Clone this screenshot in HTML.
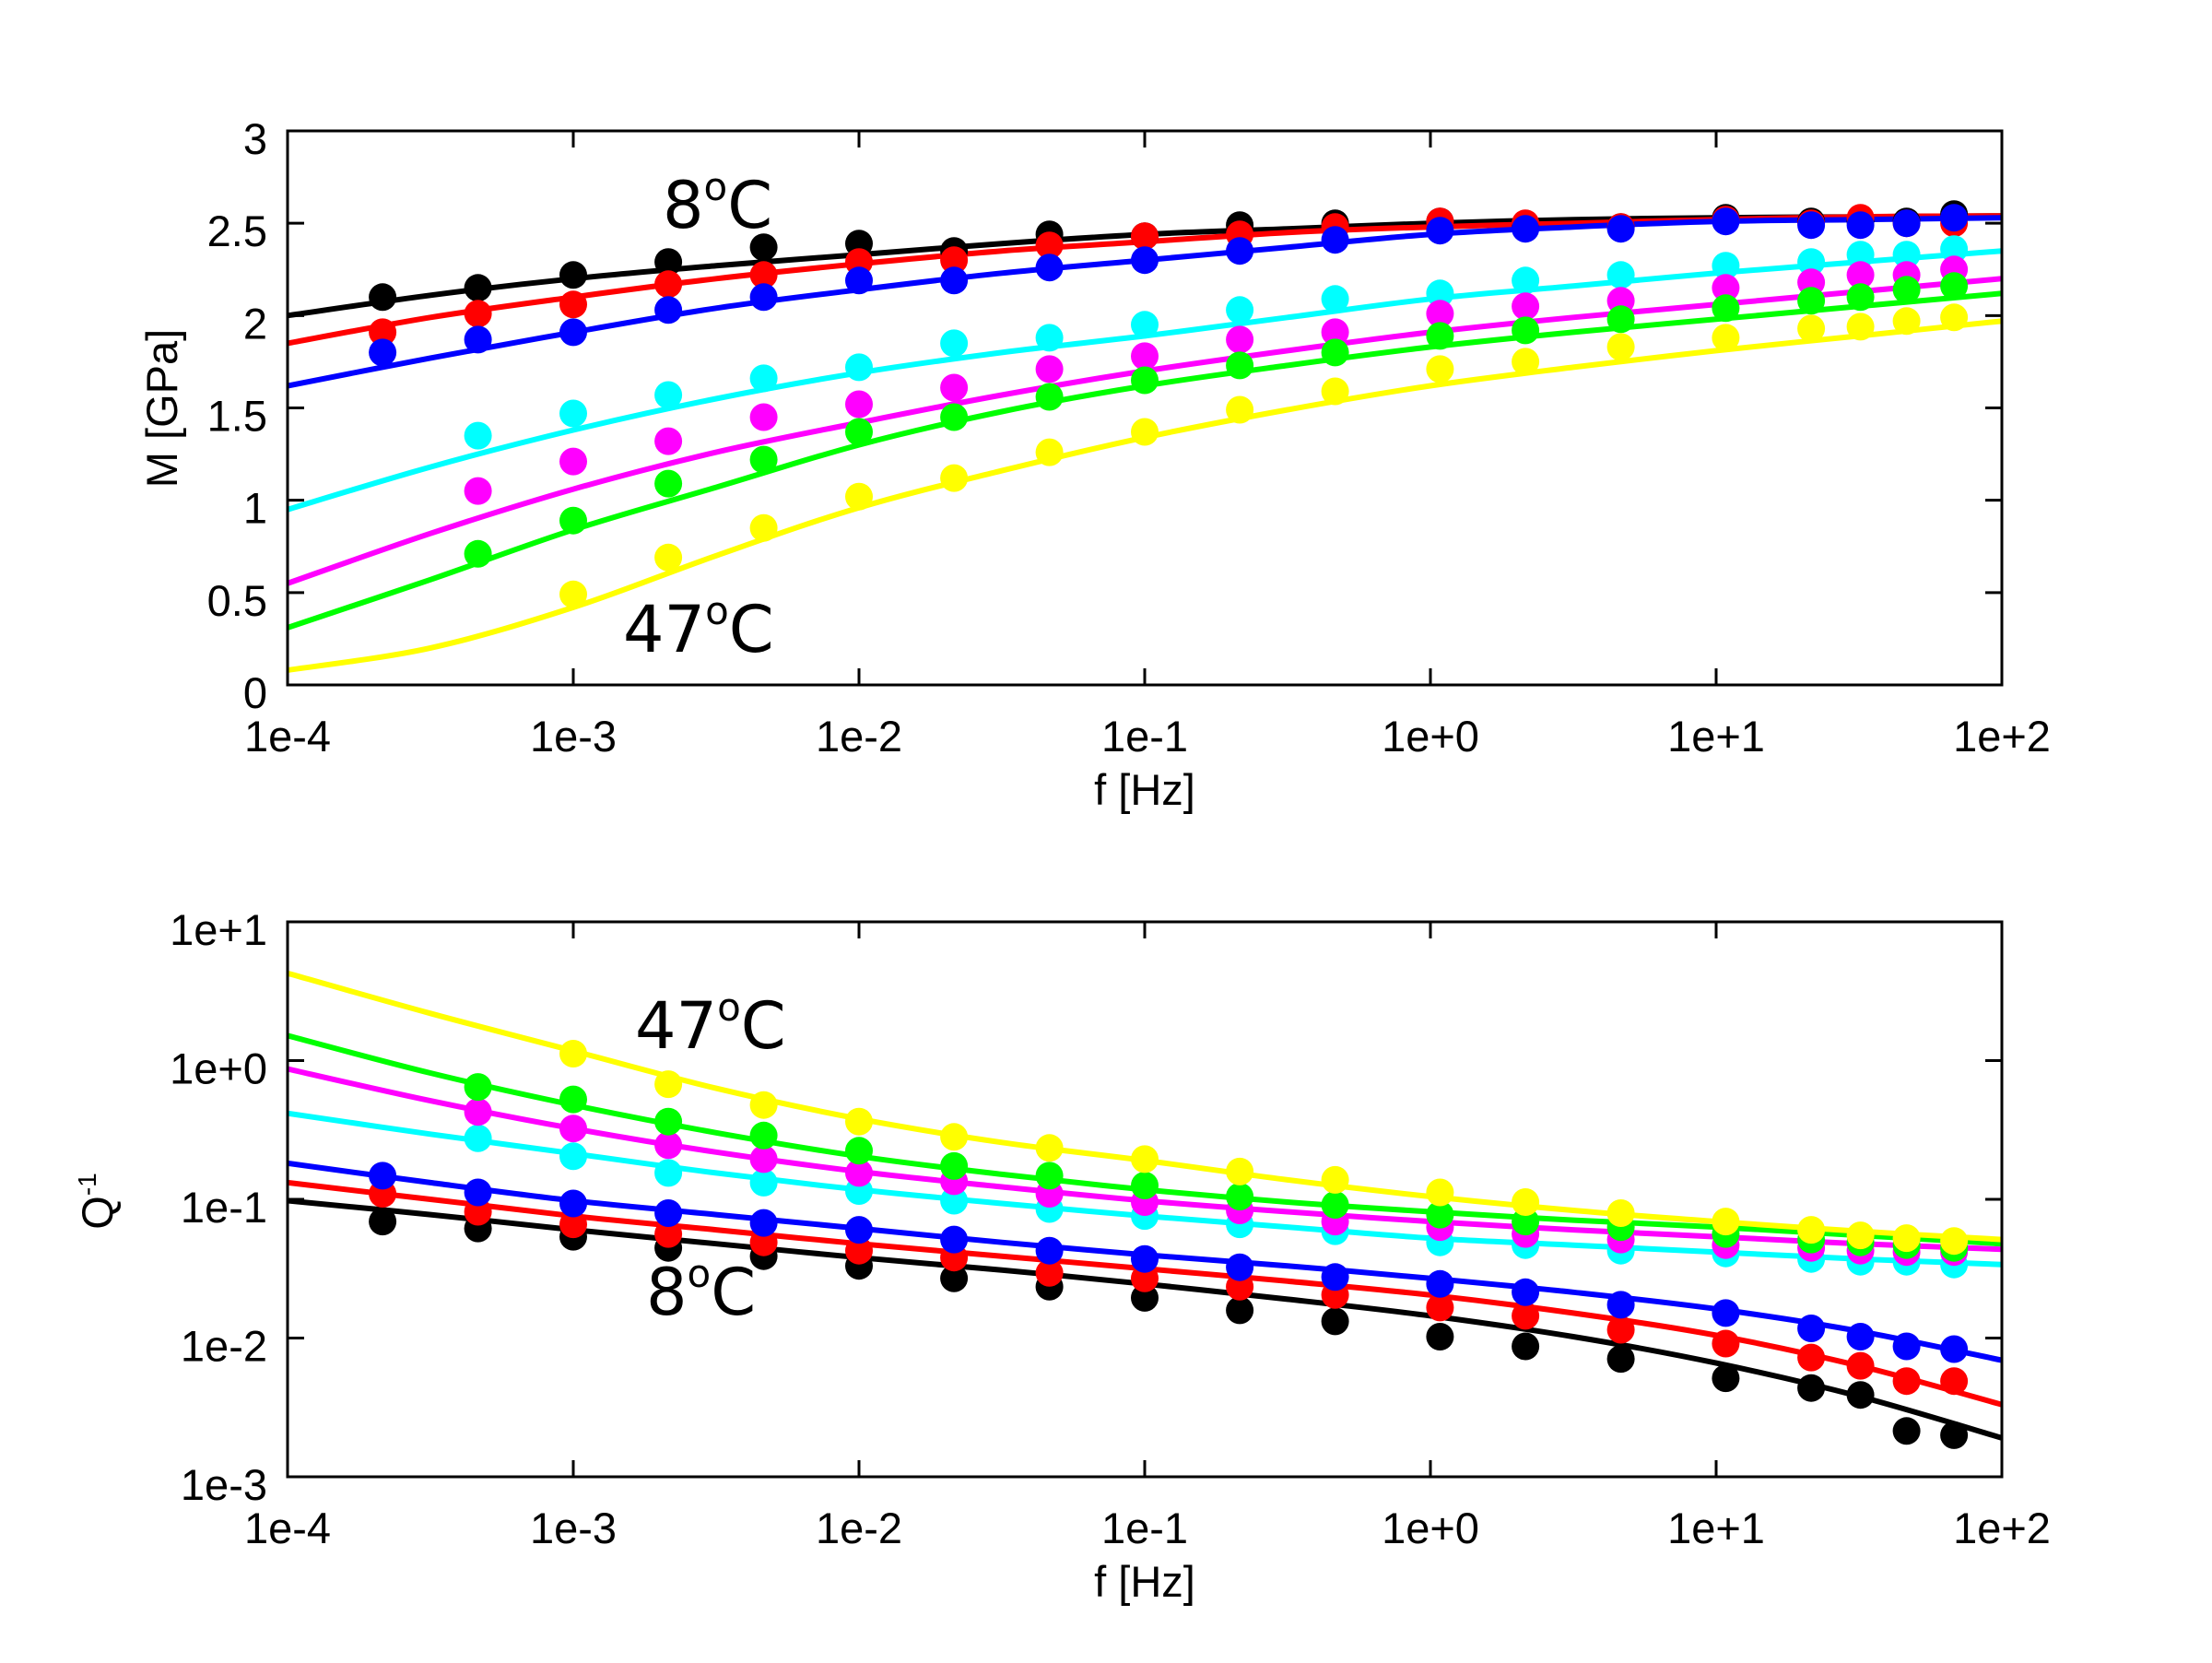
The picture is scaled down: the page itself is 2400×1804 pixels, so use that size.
<!DOCTYPE html>
<html><head><meta charset="utf-8"><style>
html,body{margin:0;padding:0;background:#fff;}
svg{display:block;font-family:"Liberation Sans",sans-serif;}
</style></head><body>
<svg id="chart" width="2400" height="1804" viewBox="0 0 2400 1804"></svg>
<script>
const freqs=[2.15e-4,4.64e-4,1e-3,2.15e-3,4.64e-3,1e-2,2.15e-2,4.64e-2,0.1,0.215,0.464,1.08,2.15,4.64,10.8,21.5,32,46.4,68];
const seriesNames=["8C","T2","T3","T4","T5","T6","47C"];
const seriesColors=["#000000","#ff0000","#0000ff","#00ffff","#ff00ff","#00ff00","#ffff00"];
const mBlack=[2.10,2.15,2.22,2.29,2.37,2.39,2.35,2.44,2.43,2.49,2.50,2.51,2.49,2.48,2.53,2.51,2.51,2.51,2.55];
const mRed=[1.91,2.01,2.06,2.17,2.22,2.29,2.30,2.38,2.43,2.44,2.48,2.51,2.50,2.48,2.52,2.50,2.53,2.50,2.50];
const mBlue=[1.80,1.87,1.91,2.03,2.10,2.19,2.19,2.26,2.30,2.35,2.41,2.46,2.47,2.47,2.51,2.49,2.49,2.50,2.53];
const mCyan=[null,1.35,1.47,1.57,1.66,1.72,1.85,1.88,1.95,2.03,2.09,2.12,2.19,2.22,2.27,2.29,2.33,2.33,2.36];
const mMagenta=[null,1.05,1.21,1.32,1.45,1.52,1.61,1.71,1.78,1.87,1.91,2.01,2.05,2.08,2.15,2.18,2.22,2.22,2.25];
const mGreen=[null,0.71,0.89,1.09,1.22,1.37,1.45,1.56,1.65,1.73,1.80,1.89,1.92,1.98,2.04,2.08,2.10,2.14,2.16];
const mYellow=[null,null,0.49,0.69,0.85,1.02,1.12,1.26,1.37,1.49,1.59,1.71,1.75,1.83,1.88,1.93,1.94,1.97,1.99];
const fitLogF=[-4,-3.5,-3,-2.5,-2,-1.5,-1,-0.5,0,0.5,1,1.5,2];
const mFitBlack=[2.00,2.11,2.20,2.27,2.33,2.39,2.44,2.47,2.50,2.52,2.53,2.535,2.54];
const mFitRed=[1.85,1.99,2.10,2.20,2.28,2.35,2.40,2.45,2.48,2.50,2.52,2.535,2.54];
const mFitBlue=[1.62,1.77,1.91,2.04,2.14,2.23,2.30,2.37,2.44,2.48,2.51,2.52,2.53];
const mFitCyan=[0.95,1.18,1.38,1.55,1.69,1.80,1.89,1.99,2.09,2.16,2.23,2.29,2.35];
const mFitMagenta=[0.55,0.82,1.06,1.26,1.42,1.57,1.70,1.81,1.91,1.99,2.06,2.13,2.20];
const mFitGreen=[0.31,0.57,0.84,1.07,1.30,1.48,1.62,1.73,1.83,1.91,1.98,2.05,2.12];
const mFitYellow=[0.08,0.20,0.42,0.70,0.96,1.16,1.34,1.49,1.62,1.72,1.81,1.89,1.97];
const qBlack=[-1.16,-1.21,-1.27,-1.35,-1.41,-1.48,-1.57,-1.63,-1.71,-1.80,-1.88,-1.99,-2.06,-2.15,-2.29,-2.36,-2.41,-2.67,-2.70];
const qRed=[-0.96,-1.09,-1.18,-1.25,-1.31,-1.37,-1.42,-1.53,-1.57,-1.63,-1.69,-1.78,-1.84,-1.94,-2.04,-2.14,-2.20,-2.31,-2.31];
const qBlue=[-0.83,-0.95,-1.03,-1.10,-1.17,-1.22,-1.29,-1.37,-1.43,-1.49,-1.56,-1.61,-1.67,-1.76,-1.82,-1.93,-1.99,-2.06,-2.08];
const qCyan=[null,-0.56,-0.69,-0.81,-0.88,-0.94,-1.01,-1.07,-1.12,-1.18,-1.23,-1.31,-1.33,-1.37,-1.39,-1.43,-1.45,-1.45,-1.47];
const qMagenta=[null,-0.37,-0.49,-0.61,-0.71,-0.81,-0.87,-0.96,-1.02,-1.08,-1.16,-1.20,-1.25,-1.29,-1.33,-1.35,-1.37,-1.38,-1.38];
const qGreen=[null,-0.19,-0.28,-0.44,-0.54,-0.65,-0.76,-0.83,-0.90,-0.98,-1.04,-1.11,-1.16,-1.20,-1.25,-1.29,-1.31,-1.33,-1.35];
const qYellow=[null,null,0.05,-0.17,-0.32,-0.44,-0.55,-0.63,-0.71,-0.80,-0.86,-0.95,-1.02,-1.10,-1.16,-1.22,-1.26,-1.28,-1.30];
const qFitBlack=[-1.01,-1.11,-1.22,-1.32,-1.42,-1.51,-1.61,-1.72,-1.84,-1.99,-2.18,-2.42,-2.72];
const qFitRed=[-0.88,-1.00,-1.12,-1.22,-1.32,-1.41,-1.50,-1.59,-1.69,-1.82,-1.98,-2.20,-2.48];
const qFitBlue=[-0.74,-0.88,-1.01,-1.11,-1.21,-1.31,-1.40,-1.48,-1.57,-1.67,-1.79,-1.95,-2.16];
const qFitCyan=[-0.38,-0.53,-0.67,-0.81,-0.93,-1.03,-1.12,-1.20,-1.28,-1.33,-1.38,-1.43,-1.47];
const qFitMagenta=[-0.06,-0.29,-0.49,-0.66,-0.80,-0.91,-1.01,-1.09,-1.16,-1.22,-1.27,-1.32,-1.36];
const qFitGreen=[0.18,-0.09,-0.32,-0.52,-0.69,-0.82,-0.93,-1.02,-1.09,-1.15,-1.20,-1.26,-1.32];
const qFitYellow=[0.63,0.34,0.07,-0.20,-0.42,-0.59,-0.72,-0.86,-0.98,-1.08,-1.16,-1.23,-1.29];
const xTickLabels=["1e-4","1e-3","1e-2","1e-1","1e+0","1e+1","1e+2"];
const mTickLabels=["0","0.5","1","1.5","2","2.5","3"];
const qTickLabels=["1e-3","1e-2","1e-1","1e+0","1e+1"];

const NS="http://www.w3.org/2000/svg";
const svg=document.getElementById('chart');
function mk(tag,attrs,parent){const e=document.createElementNS(NS,tag);for(const k in attrs)e.setAttribute(k,attrs[k]);(parent||svg).appendChild(e);return e;}
const L=312,R=2172;
const xs=lf=>L+(lf+4)/6*(R-L);
const T1=142,B1=743,T2=1000,B2=1602;
const yM=v=>B1-v/3*(B1-T1);
const yQ=v=>B2-(v+3)/4*(B2-T2);

function smoothPath(pts){
  let d="M"+pts[0][0].toFixed(1)+","+pts[0][1].toFixed(1);
  for(let i=0;i<pts.length-1;i++){
    const p0=pts[Math.max(0,i-1)],p1=pts[i],p2=pts[i+1],p3=pts[Math.min(pts.length-1,i+2)];
    const c1=[p1[0]+(p2[0]-p0[0])/6,p1[1]+(p2[1]-p0[1])/6];
    const c2=[p2[0]-(p3[0]-p1[0])/6,p2[1]-(p3[1]-p1[1])/6];
    d+=" C"+c1.map(n=>n.toFixed(1)).join(",")+" "+c2.map(n=>n.toFixed(1)).join(",")+" "+p2[0].toFixed(1)+","+p2[1].toFixed(1);
  }
  return d;
}

function panel(prefix,top,bot,yfun,fits,datas,yTicks,yLabels){
  const clipId=prefix+"-clip";
  const defs=mk('defs',{});
  const cp=mk('clipPath',{id:clipId},defs);
  mk('rect',{x:L,y:top,width:R-L,height:bot-top},cp);
  const g=mk('g',{'clip-path':'url(#'+clipId+')'});
  
  
  fits.forEach((arr,si)=>{
    const pts=fitLogF.map((lf,i)=>[xs(lf),yfun(arr[i])]);
    const p=mk('path',{d:smoothPath(pts),fill:'none',stroke:seriesColors[si],'stroke-width':6},g);
    
    
  });
  datas.forEach((arr,si)=>{
    arr.forEach((v,i)=>{
      if(v===null)return;
      const c=mk('circle',{cx:xs(Math.log10(freqs[i])).toFixed(1),cy:yfun(v).toFixed(1),r:15,fill:seriesColors[si]},g);
      
      
    });
  });
  const fr=mk('rect',{x:L,y:top,width:R-L,height:bot-top,fill:'none',stroke:'#000','stroke-width':3});
  
  
  xTickLabels.forEach((lab,i)=>{
    const x=xs(i-4);
    mk('line',{x1:x,y1:bot,x2:x,y2:bot-18,stroke:'#000','stroke-width':3});
    mk('line',{x1:x,y1:top,x2:x,y2:top+18,stroke:'#000','stroke-width':3});
    const t=mk('text',{x:x,y:bot+72,'font-size':47,'text-anchor':'middle'});
    t.textContent=lab;
    
    
  });
  yTicks.forEach((v,i)=>{
    const y=yfun(v);
    mk('line',{x1:L,y1:y,x2:L+18,y2:y,stroke:'#000','stroke-width':3});
    mk('line',{x1:R,y1:y,x2:R-18,y2:y,stroke:'#000','stroke-width':3});
    const t=mk('text',{x:290,y:y+25,'font-size':47,'text-anchor':'end'});
    t.textContent=yLabels[i];
    
    
  });
  const xt=mk('text',{x:1242,y:bot+130,'font-size':47,'text-anchor':'middle'});
  xt.textContent="f [Hz]";
  
  
}

panel('modulus',T1,B1,yM,
  [mFitBlack,mFitRed,mFitBlue,mFitCyan,mFitMagenta,mFitGreen,mFitYellow],
  [mBlack,mRed,mBlue,mCyan,mMagenta,mGreen,mYellow],
  [0,0.5,1,1.5,2,2.5,3],mTickLabels);
panel('attenuation',T2,B2,yQ,
  [qFitBlack,qFitRed,qFitBlue,qFitCyan,qFitMagenta,qFitGreen,qFitYellow],
  [qBlack,qRed,qBlue,qCyan,qMagenta,qGreen,qYellow],
  [-3,-2,-1,0,1],qTickLabels);

const ym=mk('text',{x:0,y:0,'font-size':47,'text-anchor':'middle',transform:'translate(192,443) rotate(-90)'});
ym.textContent="M [GPa]";


const yq=mk('text',{x:0,y:0,'font-size':47,'text-anchor':'middle',transform:'translate(122,1303) rotate(-90)'});
yq.innerHTML='Q<tspan font-size="28" dy="-18">-1</tspan>';



function ann(x,y,num,name){
  const t=mk('text',{x:x,y:y,'font-size':70,'font-family':'DejaVu Sans, sans-serif'});
  t.innerHTML=num+'<tspan font-size="42" dy="-30">o</tspan><tspan dy="30">C</tspan>';
  
  
}
ann(719,247,'8','label-8c-top');
ann(676,707,'47','label-47c-top');
ann(689,1137,'47','label-47c-bottom');
ann(701,1426,'8','label-8c-bottom');
</script>
</body></html>
